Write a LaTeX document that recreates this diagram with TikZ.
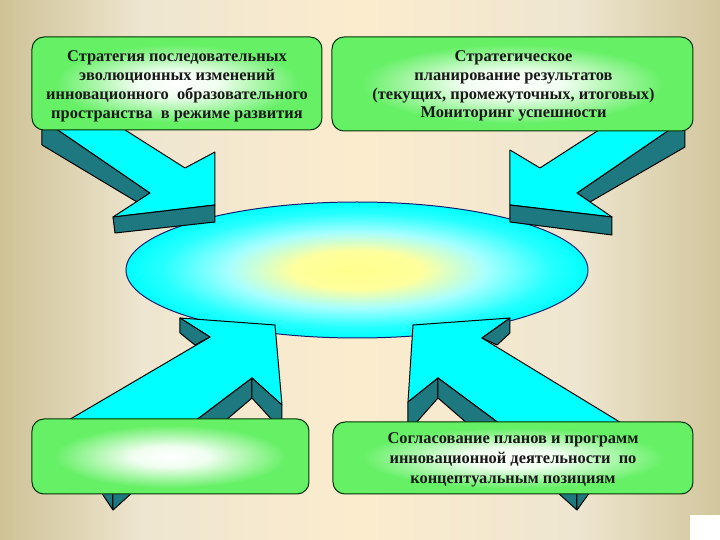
\documentclass[tikz,border=0pt]{standalone}
\usepackage{fontspec}
\setmainfont{Liberation Serif}
\usetikzlibrary{shapes.geometric}
\definecolor{bgL}{RGB}{206,194,150}
\definecolor{bgA}{RGB}{238,230,208}
\definecolor{bgM}{RGB}{252,236,206}
\definecolor{bgR}{RGB}{210,198,156}
\definecolor{boxgreen}{RGB}{102,240,102}
\definecolor{teal3d}{RGB}{30,120,128}
\definecolor{aqua}{RGB}{0,255,255}
\definecolor{paleyel}{RGB}{255,255,140}
\definecolor{ellline}{RGB}{20,30,110}
\pgfdeclarehorizontalshading{bgshade}{100bp}{color(0bp)=(bgL); color(25bp)=(bgL); color(35bp)=(bgA); color(50bp)=(bgM); color(65bp)=(bgA); color(75bp)=(bgR); color(100bp)=(bgR)}
\pgfdeclareradialshading{boxglow}{\pgfpoint{0bp}{0bp}}{color(0bp)=(white); color(7bp)=(white!90!boxgreen); color(21bp)=(boxgreen); color(50bp)=(boxgreen)}
\pgfdeclareradialshading{ellglow}{\pgfpoint{0bp}{0bp}}{color(0bp)=(paleyel); color(7bp)=(paleyel!85!white); color(14bp)=(aqua!35!white); color(21bp)=(aqua!85!white); color(25bp)=(aqua); color(50bp)=(aqua)}
\tikzset{
  face/.style={fill=aqua, draw=black, line width=0.5pt, line join=round},
  side/.style={fill=teal3d, draw=black, line width=0.5pt, line join=round},
  greenbox/.style={draw=black!80!green, line width=0.5pt, rounded corners=6pt, shade, shading=boxglow, inner sep=0pt},
  boxtext/.style={align=center, inner sep=0pt, text=black!90, font=\fontsize{8.2}{9.4}\selectfont\bfseries}
}
\begin{document}
\begin{tikzpicture}[x=0.5pt,y=-0.5pt]
\useasboundingbox (0,0) rectangle (720,540);
\shade[shading=bgshade] (0,0) rectangle (720,540);
\fill[white] (690,515) rectangle (720,540);

% central ellipse
\node[ellipse, draw=ellline, line width=0.5pt, shade, shading=ellglow, minimum width=231pt, minimum height=68pt, inner sep=0pt] (centre) at (357,270) {};

% top-left arrow
\draw[side] (42,128) -- (55,128) -- (150,193) -- (137,202) -- (42,145) -- cycle;
\draw[face] (55,128) -- (122,128) -- (185,168) -- (215,152) -- (215,205) -- (113,217) -- (150,193) -- cycle;
\draw[side] (113,217) -- (215,205) -- (215,222) -- (115,233) -- cycle;

% top-right arrow
\draw[side] (672,128) -- (685,128) -- (685,147) -- (590,202) -- (577,193) -- cycle;
\draw[face] (672,128) -- (602,128) -- (540,168) -- (510,150) -- (510,205) -- (612,217) -- (577,193) -- cycle;
\draw[side] (510,205) -- (612,217) -- (612,235) -- (510,222) -- cycle;

% bottom-left arrow
\draw[face] (67,421) -- (210,337) -- (180,318) -- (275,325) -- (282,405) -- (252,378) -- (195,421) -- cycle;
\draw[side] (180,318) -- (210,337) -- (195,345) -- (180,333) -- cycle;
\draw[side] (195,421) -- (252,378) -- (252,398) -- (225,421) -- cycle;
\draw[side] (252,378) -- (282,405) -- (282,421) -- (273,421) -- (252,398) -- cycle;
\draw[side] (101,492) -- (113,510) -- (113,492) -- cycle;
\draw[side] (113,492) -- (113,510) -- (133,492) -- cycle;

% bottom-right arrow
\draw[face] (623,424) -- (482,338) -- (510,318) -- (413,325) -- (408,402) -- (438,378) -- (500,424) -- cycle;
\draw[side] (510,318) -- (510,333) -- (497,345) -- (482,338) -- cycle;
\draw[side] (408,402) -- (438,378) -- (438,398) -- (415,424) -- (408,424) -- cycle;
\draw[side] (438,378) -- (500,424) -- (468,424) -- (438,398) -- cycle;
\draw[side] (557,492) -- (577,510) -- (577,492) -- cycle;
\draw[side] (577,492) -- (577,510) -- (590,492) -- cycle;

% boxes
\node[greenbox, minimum width=145pt, minimum height=46.5pt] (tl) at (177,83.5) {};
\node[greenbox, minimum width=180.5pt, minimum height=47pt] (tr) at (512.5,84) {};
\node[greenbox, minimum width=138.5pt, minimum height=37.5pt] (bl) at (170.5,456.5) {};
\node[greenbox, minimum width=180pt, minimum height=36pt] (br) at (513,458) {};

\node[boxtext] (tltext) at ([yshift=-1.5pt]tl.center)
  {Стратегия последовательных\\эволюционных изменений\\инновационного\ \ образовательного\\пространства\ \ в режиме развития};
\node[boxtext] (trtext) at ([xshift=0.5pt,yshift=-1pt]tr.center)
  {Стратегическое\\планирование результатов\\(текущих, промежуточных, итоговых)\\Мониторинг успешности};
\node[boxtext, font=\fontsize{8.2}{10}\selectfont\bfseries] (brtext) at ([yshift=-1pt]br.center)
  {Согласование планов и программ\\инновационной деятельности\ \ по\\концептуальным позициям};
\end{tikzpicture}
\end{document}
